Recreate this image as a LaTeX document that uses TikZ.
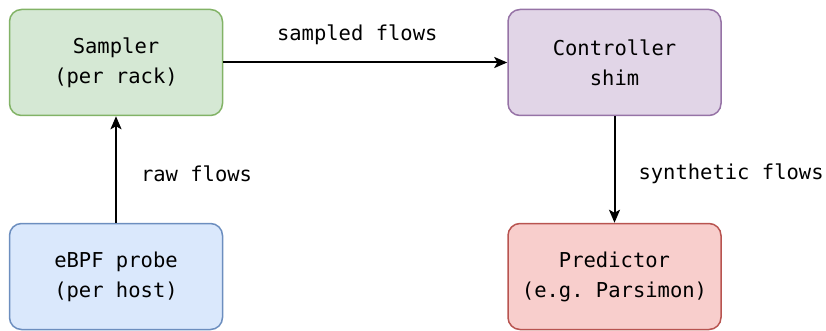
\documentclass[tikz,border=0pt]{standalone}
\usepackage{fontspec}
\setmonofont{DejaVu Sans Mono}
\usetikzlibrary{arrows.meta}
\definecolor{gfill}{HTML}{D5E8D4}\definecolor{gdraw}{HTML}{82B366}
\definecolor{pfill}{HTML}{E1D5E7}\definecolor{pdraw}{HTML}{9673A6}
\definecolor{bfill}{HTML}{DAE8FC}\definecolor{bdraw}{HTML}{6C8EBF}
\definecolor{rfill}{HTML}{F8CECC}\definecolor{rdraw}{HTML}{B85450}
\tikzset{
  box/.style={rounded corners=12pt, minimum width=213pt, minimum height=106pt, line width=1.5pt, align=center,
    font=\ttfamily\fontsize{20.5}{30}\selectfont, inner sep=0pt},
  lbl/.style={font=\ttfamily\fontsize{20.5}{30}\selectfont, inner sep=0pt},
  conn/.style={-{Stealth[length=13pt,width=11pt,inset=3pt]}, line width=2pt}
}
\begin{document}
\begin{tikzpicture}[x=1pt,y=-1pt]
\useasboundingbox (0,0) rectangle (826,331);
\node[box, fill=gfill, draw=gdraw] (sampler) at (116,62.5) {Sampler\\(per rack)};
\node[box, fill=pfill, draw=pdraw] (ctrl) at (614.5,62.5) {Controller\\shim};
\node[box, fill=bfill, draw=bdraw] (ebpf) at (116,276.5) {eBPF probe\\(per host)};
\node[box, fill=rfill, draw=rdraw] (pred) at (614.5,276.5) {Predictor\\(e.g. Parsimon)};
\draw[conn] (sampler) -- (ctrl) node[midway, lbl, above=17pt, xshift=-8pt] (l1) {sampled flows};
\draw[conn] (ebpf) -- (sampler) node[midway, lbl, right=24pt, yshift=-4pt] (l2) {raw flows};
\draw[conn] (ctrl) -- (pred) node[midway, lbl, right=23pt, yshift=-4pt] (l3) {synthetic flows};
\end{tikzpicture}
\end{document}
